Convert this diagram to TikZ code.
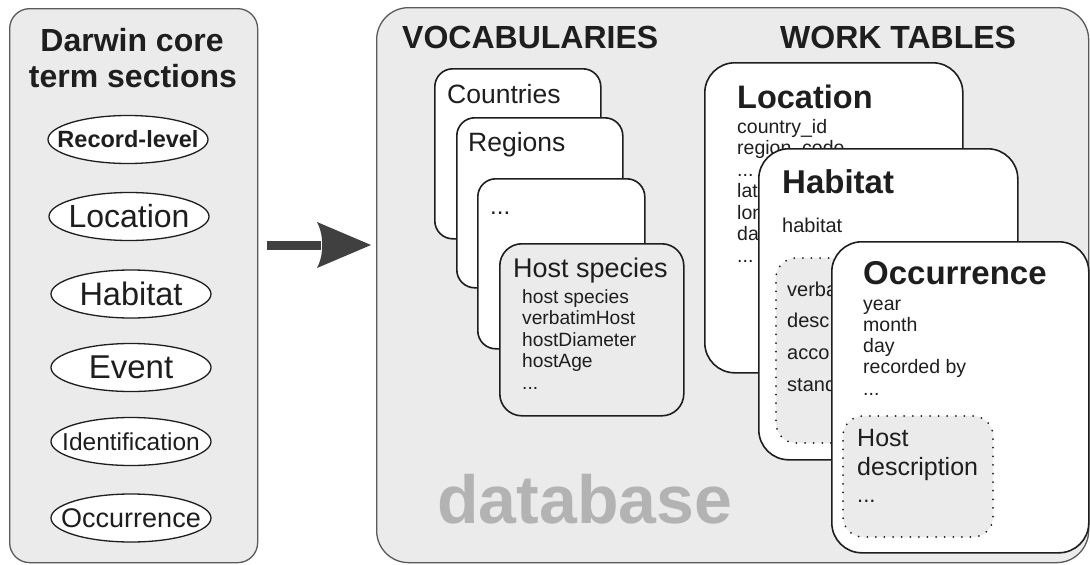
\documentclass[tikz,border=0pt]{standalone}
\usepackage{fontspec}
\setmainfont{Liberation Sans}
\usetikzlibrary{shapes.geometric,calc}
\definecolor{panelfill}{HTML}{EBEBEB}
\definecolor{panelline}{HTML}{5A5A5A}
\definecolor{ink}{HTML}{1E1E1E}
\definecolor{arrowgray}{HTML}{404040}
\definecolor{dbgray}{HTML}{B3B3B3}
\newcommand{\myfs}[1]{\fontsize{#1}{#1}\selectfont}
\newcommand{\mydots}{...}
\begin{document}
\begin{tikzpicture}[x=1pt,y=-1pt,
  every node/.style={inner sep=0pt, text=ink},
  panel/.style={draw=panelline, fill=panelfill, line width=1.3pt, anchor=north west},
  card/.style={draw=ink, fill=white, line width=1.6pt, anchor=north west},
  dotbox/.style={draw=ink, fill=panelfill, line width=2pt, dash pattern=on 0pt off 8.6pt, line cap=round, anchor=north west},
  ell/.style={ellipse, draw=ink, line width=1.3pt, fill=white, minimum width=160pt, minimum height=48pt, inner sep=0pt},
  lbl/.style={anchor=base west},
]
\useasboundingbox (0,0) rectangle (1090,565);
\fill[white] (0,0) rectangle (1090,565);

% left panel
\node[panel, rounded corners=20pt, minimum width=248pt, minimum height=554pt] (dwc) at (9,8) {};
\node[anchor=base] (t1) at (132,51) {\myfs{32}\bfseries Darwin core};
\node[anchor=base] (t2) at (133,87) {\myfs{32}\bfseries term sections};
\node[ell] (e1) at (128,139.5) {};
\node (e1t) at (e1.center) {\myfs{23.5}\bfseries Record-level};
\node[ell] (e2) at (129,216.5) {};
\node (e2t) at (e2.center) {\myfs{32}Location};
\node[ell] (e3) at (131,294) {};
\node (e3t) at (e3.center) {\myfs{32.5}Habitat};
\node[ell] (e4) at (131,367.5) {};
\node (e4t) at (e4.center) {\myfs{33}Event};
\node[ell] (e5) at (131,441.5) {};
\node (e5t) at (e5.center) {\myfs{24.5}Identification};
\node[ell] (e6) at (131,518) {};
\node (e6t) at (e6.center) {\myfs{27}Occurrence};

% arrow
\coordinate (arrTail) at (267,245);
\coordinate (arrTip) at (371,245);
\draw[arrowgray, line width=9pt] (arrTail) -- ($(arrTip)+(-50,0)$);
\fill[arrowgray] (arrTip) -- ($(arrTip)+(-54,-23)$) .. controls ($(arrTip)+(-47,-10)$) and ($(arrTip)+(-47,10)$) .. ($(arrTip)+(-54,23)$) -- cycle;

% right panel
\node[panel, rounded corners=32pt, minimum width=712pt, minimum height=555pt] (db) at (376,7) {};
\node[lbl] (voc) at (402,48) {\myfs{32}\bfseries VOCABULARIES};
\node[lbl] (work) at (780,48) {\myfs{32}\bfseries WORK TABLES};
\node[lbl, text=dbgray] (dbl) at (437,523) {\myfs{68}\bfseries database};

% vocabularies
\node[card, rounded corners=18pt, minimum width=166pt, minimum height=170pt] (cty) at (434,68) {};
\node[lbl] (ctyl) at (447,103) {\myfs{26.5}Countries};
\node[card, rounded corners=18pt, minimum width=166pt, minimum height=170pt] (reg) at (456,117) {};
\node[lbl] (regl) at (468,151) {\myfs{26.5}Regions};
\node[card, rounded corners=18pt, minimum width=167pt, minimum height=170pt] (oth) at (477,178) {};
\node[lbl] (othl) at (490,214) {\myfs{24}\mydots};
\node[card, fill=panelfill, rounded corners=22pt, minimum width=184pt, minimum height=172pt] (hs) at (499,243) {};
\node[lbl] (hsl) at (513,277) {\myfs{27}Host species};
\foreach \t [count=\i] in {host species, verbatimHost, hostDiameter, hostAge, \mydots}
  \node[lbl] (hs\i) at (522,{303+21.5*(\i-1)}) {\myfs{19.2}\t};

% work tables: Location
\node[card, rounded corners=30pt, minimum width=258pt, minimum height=310pt] (loc) at (704,62) {};
\node[lbl] (locl) at (737,108) {\myfs{32.5}\bfseries Location};
\foreach \t [count=\i] in {country\_id, region\_code, \mydots, lat, lon, da, \mydots}
  \node[lbl] (loc\i) at (737,{133+21.5*(\i-1)}) {\myfs{19.5}\t};

% Habitat
\node[card, rounded corners=30pt, minimum width=259pt, minimum height=311pt] (hab) at (758,148) {};
\node[lbl] (habl) at (782,193) {\myfs{33}\bfseries Habitat};
\node[lbl] (hab1) at (782,232) {\myfs{20}habitat};
\node[dotbox, rounded corners=20pt, minimum width=150pt, minimum height=185pt] (habbox) at (775,257) {};
\node[lbl] (hb1) at (787,296) {\myfs{20}verba};
\node[lbl] (hb2) at (787,327) {\myfs{20}desc};
\node[lbl] (hb3) at (787,359) {\myfs{20}acco};
\node[lbl] (hb4) at (787,391) {\myfs{20}stand};

% Occurrence
\node[card, rounded corners=30pt, minimum width=257pt, minimum height=311pt] (occ) at (831,241) {};
\node[lbl] (occl) at (863,284) {\myfs{33}\bfseries Occurrence};
\foreach \t [count=\i] in {year, month, day, recorded by, \mydots}
  \node[lbl] (occ\i) at (863,{310+21.3*(\i-1)}) {\myfs{19.5}\t};
\node[dotbox, rounded corners=20pt, minimum width=150pt, minimum height=121pt] (hdbox) at (842,415) {};
\node[lbl] (hd1) at (857,446) {\myfs{25}Host};
\node[lbl] (hd2) at (857,475) {\myfs{25}description};
\node[lbl] (hd3) at (857,502) {\myfs{22}\mydots};
\end{tikzpicture}
\end{document}
